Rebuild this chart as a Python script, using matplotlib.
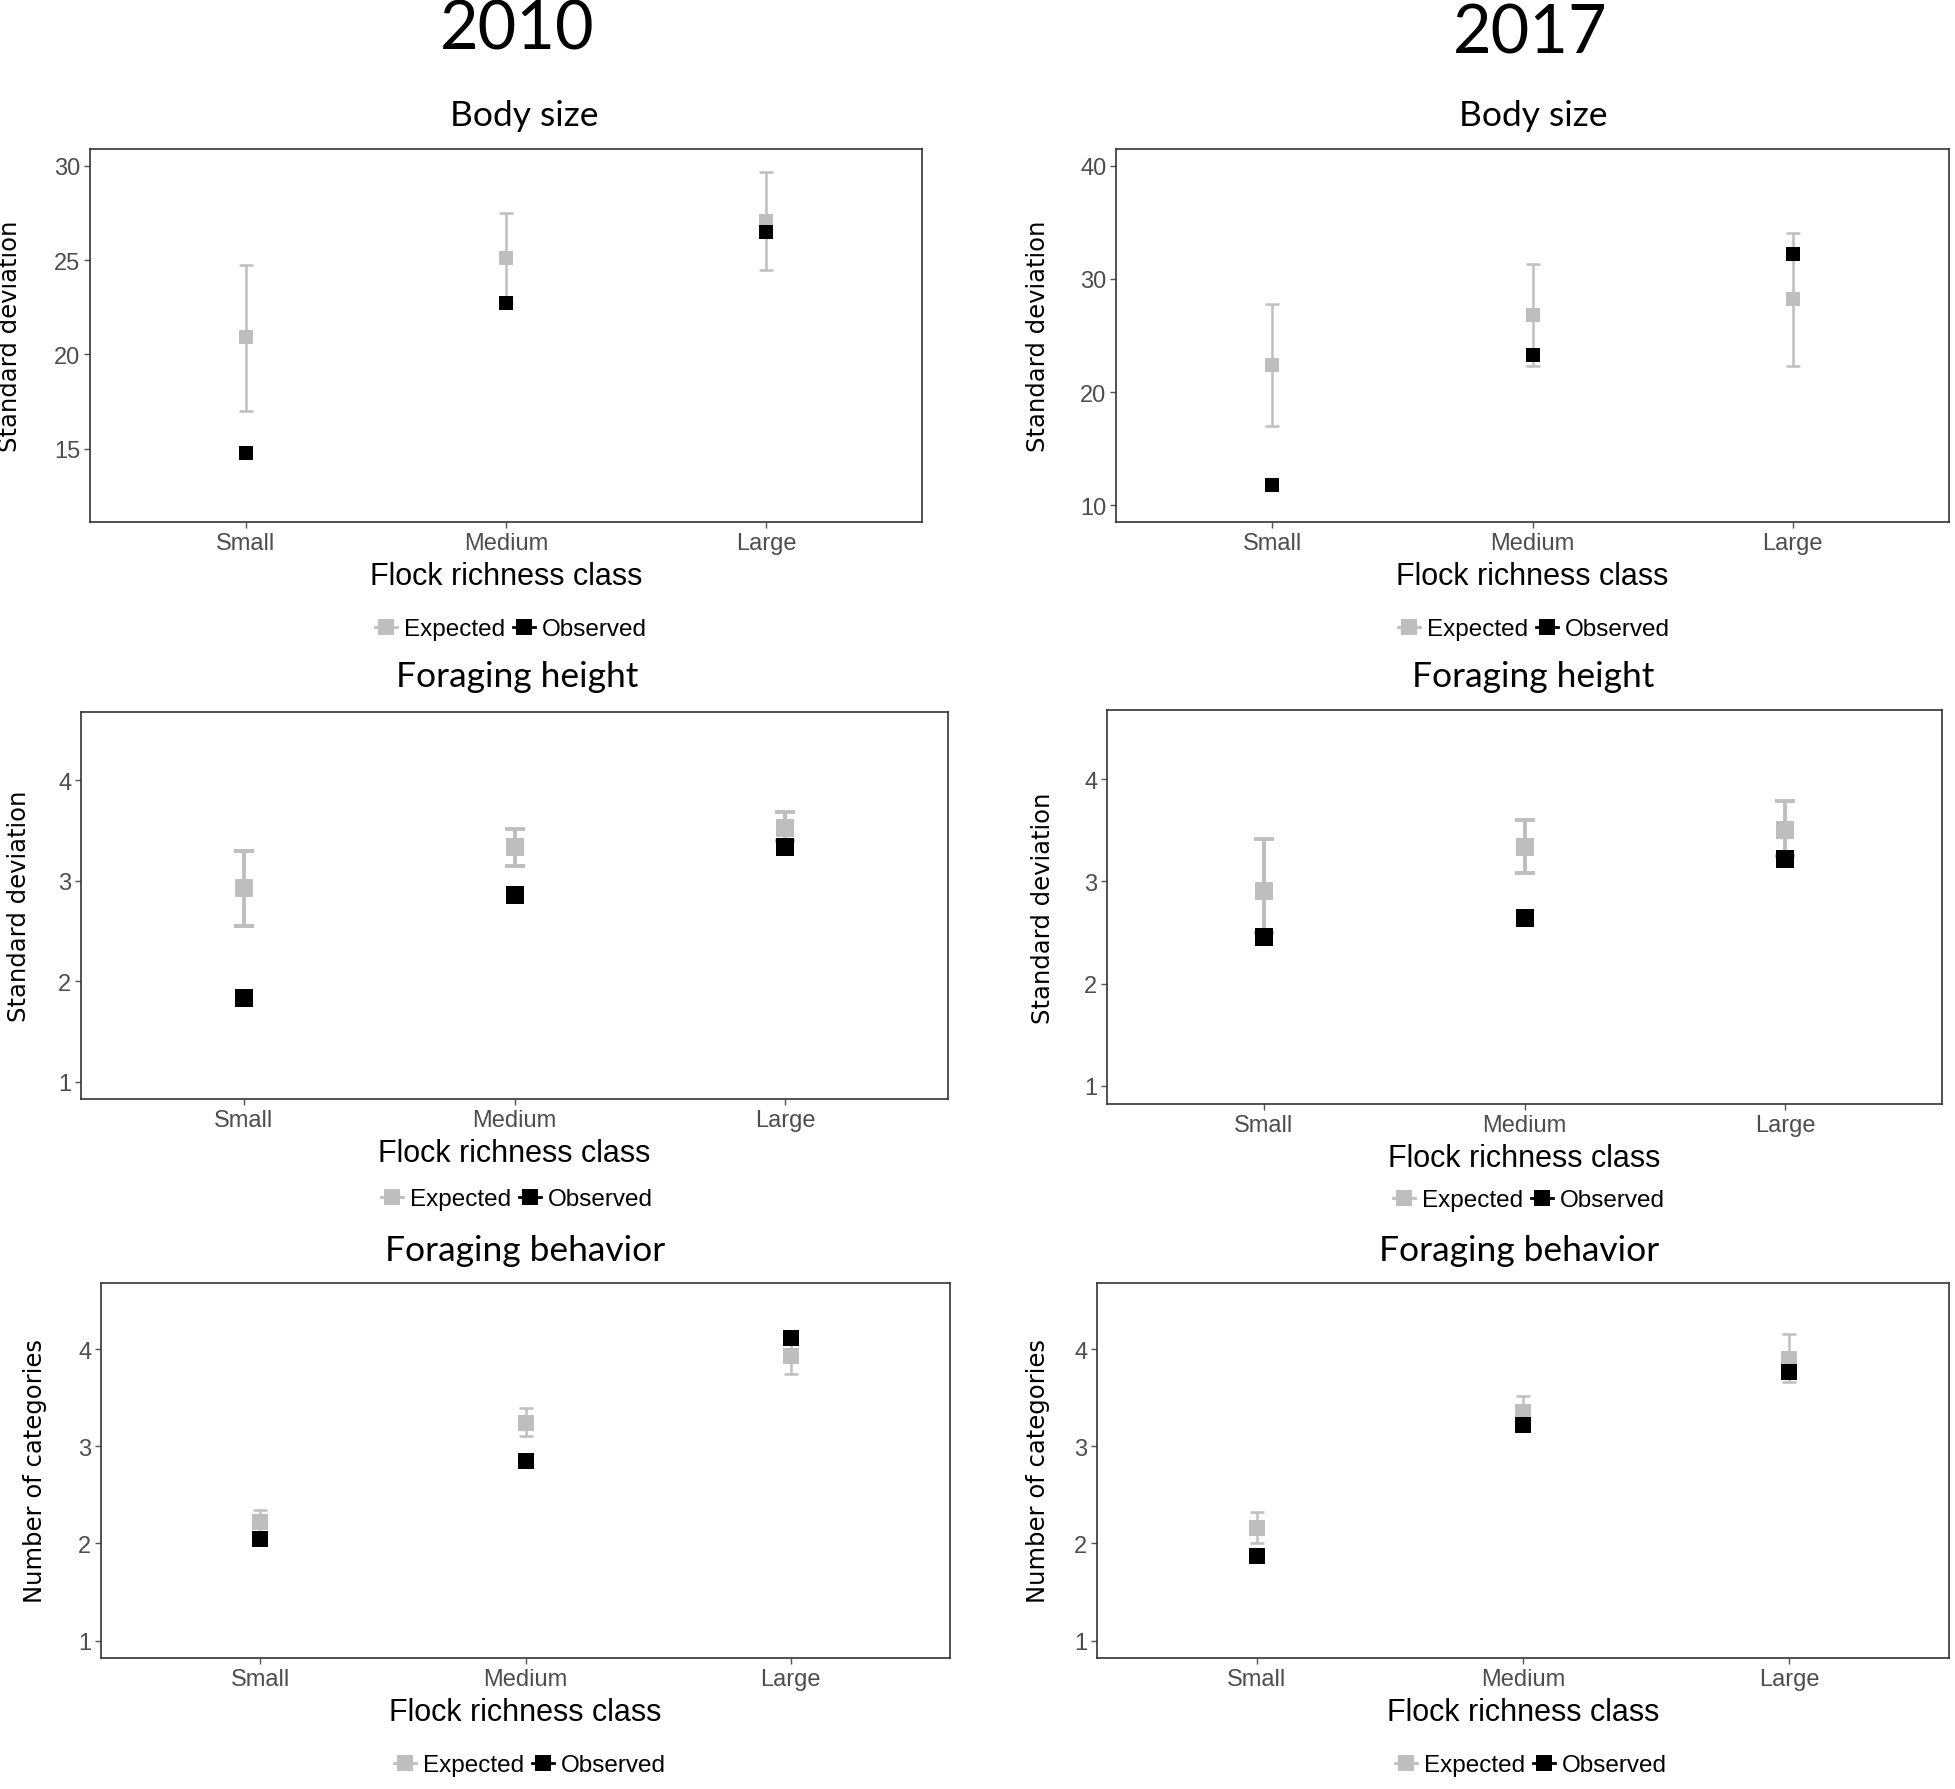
import matplotlib
matplotlib.use("Agg")
import matplotlib.pyplot as plt
from matplotlib.lines import Line2D

# ---- data ----
classes = ['Small', 'Medium', 'Large']
years = ['2010', '2017']
titles = ['Body size', 'Foraging height', 'Foraging behavior']
ylabels = ['Standard deviation', 'Standard deviation', 'Number of categories']

# body size
bs10_exp = [20.9, 25.1, 27.1]
bs10_lo = [17.0, 22.7, 24.5]
bs10_hi = [24.75, 27.5, 29.7]
bs10_obs = [14.75, 22.7, 26.5]

bs17_exp = [22.4, 26.8, 28.2]
bs17_lo = [17.0, 22.3, 22.3]
bs17_hi = [27.8, 31.35, 34.1]
bs17_obs = [11.8, 23.25, 32.25]

# foraging height
fh10_exp = [2.93, 3.34, 3.53]
fh10_lo = [2.55, 3.15, 3.40]
fh10_hi = [3.30, 3.52, 3.69]
fh10_obs = [1.83, 2.86, 3.34]

fh17_exp = [2.91, 3.34, 3.50]
fh17_lo = [2.50, 3.08, 3.25]
fh17_hi = [3.42, 3.60, 3.79]
fh17_obs = [2.46, 2.64, 3.22]

# foraging behavior
fb10_exp = [2.22, 3.24, 3.93]
fb10_lo = [2.10, 3.11, 3.74]
fb10_hi = [2.34, 3.39, 4.05]
fb10_obs = [2.05, 2.85, 4.11]

fb17_exp = [2.16, 3.35, 3.90]
fb17_lo = [2.00, 3.20, 3.66]
fb17_hi = [2.32, 3.52, 4.16]
fb17_obs = [1.87, 3.22, 3.76]

yticks_bs10 = [15, 20, 25, 30]
yticks_bs17 = [10, 20, 30, 40]
yticks_fh = [1, 2, 3, 4]
yticks_fb = [1, 2, 3, 4]

# ---- layout (pixels in a 1955 x 1790 canvas) ----
W, H = 1955, 1790
GREY = '#bebebe'

panels = [
    dict(d=(bs10_exp, bs10_lo, bs10_hi, bs10_obs), yt=yticks_bs10, yl=(11.1, 30.9),
         box=(90, 150, 922, 523), ylx=22, title=(524, 116), leg=(511, 630),
         row=0, ms=10, lw=1.8, cs=5),
    dict(d=(bs17_exp, bs17_lo, bs17_hi, bs17_obs), yt=yticks_bs17, yl=(8.5, 41.5),
         box=(1116, 150, 1949, 523), ylx=1050, title=(1533, 116), leg=(1534, 630),
         row=0, ms=10, lw=1.8, cs=5),
    dict(d=(fh10_exp, fh10_lo, fh10_hi, fh10_obs), yt=yticks_fh, yl=(0.83, 4.68),
         box=(81, 713, 948, 1100), ylx=31, title=(517, 677), leg=(517, 1200),
         row=1, ms=13, lw=2.8, cs=7),
    dict(d=(fh17_exp, fh17_lo, fh17_hi, fh17_obs), yt=yticks_fh, yl=(0.82, 4.68),
         box=(1107, 711, 1942, 1105), ylx=1055, title=(1533, 677), leg=(1529, 1201),
         row=1, ms=13, lw=2.8, cs=7),
    dict(d=(fb10_exp, fb10_lo, fb10_hi, fb10_obs), yt=yticks_fb, yl=(0.82, 4.68),
         box=(101, 1284, 950, 1659), ylx=47, title=(525, 1251), leg=(530, 1766),
         row=2, ms=12, lw=1.8, cs=5),
    dict(d=(fb17_exp, fb17_lo, fb17_hi, fb17_obs), yt=yticks_fb, yl=(0.82, 4.68),
         box=(1097, 1284, 1949, 1659), ylx=1050, title=(1519, 1251), leg=(1531, 1766),
         row=2, ms=12, lw=1.8, cs=5),
]

fig = plt.figure(figsize=(W / 100, H / 100), dpi=100)
fig.patch.set_facecolor('white')

tick_font = ['Liberation Sans Narrow', 'Liberation Sans', 'DejaVu Sans']
title_font = ['Lato', 'DejaVu Sans']

# year headers
fig.text(517 / W, 1 - 31 / H, years[0], ha='center', va='center', fontsize=48, family=title_font)
fig.text(1530 / W, 1 - 35 / H, years[1], ha='center', va='center', fontsize=48, family=title_font)

xpos = [1, 2, 3]
for i, p in enumerate(panels):
    l, t, r, b = p['box']
    ax = fig.add_axes([l / W, 1 - b / H, (r - l) / W, (b - t) / H])
    exp, lo, hi, obs = p['d']
    yerr = [[e - a for e, a in zip(exp, lo)], [h - e for e, h in zip(exp, hi)]]
    ax.errorbar(xpos, exp, yerr=yerr, fmt='none', ecolor=GREY,
                elinewidth=p['lw'], capsize=p['cs'], capthick=p['lw'], zorder=2)
    ax.plot(xpos, exp, 's', color=GREY, ms=p['ms'], mew=0, zorder=3)
    ax.plot(xpos, obs, 's', color='black', ms=p['ms'], mew=0, zorder=4)

    ax.set_xlim(0.4, 3.6)
    ax.set_ylim(*p['yl'])
    ax.set_xticks(xpos)
    ax.set_xticklabels(classes)
    ax.set_yticks(p['yt'])
    ax.tick_params(axis='both', length=4, width=1, color='#555555',
                   labelcolor='#4d4d4d', labelsize=17, pad=3)
    for lab in ax.get_xticklabels() + ax.get_yticklabels():
        lab.set_family(tick_font)
    for s in ax.spines.values():
        s.set_color('#333333')
        s.set_linewidth(1.2)

    ax.set_ylabel(ylabels[p['row']], fontsize=17.5, family='DejaVu Sans')
    ax.yaxis.set_label_coords((p['ylx'] - l) / (r - l), 0.5)
    ax.set_xlabel('Flock richness class', fontsize=22, family=tick_font, labelpad=5)

    tx, ty = p['title']
    fig.text(tx / W, 1 - ty / H, titles[p['row']], ha='center', va='center',
             fontsize=25.5, family=title_font)

    handles = [Line2D([], [], color=GREY, marker='s', ms=11, lw=2, mew=0),
               Line2D([], [], color='black', marker='s', ms=11, lw=2, mew=0)]
    lx, ly = p['leg']
    ax.legend(handles, ['Expected', 'Observed'], loc='center',
              bbox_to_anchor=(lx / W, 1 - ly / H), bbox_transform=fig.transFigure,
              ncol=2, frameon=False, handlelength=0.9,
              handletextpad=0.3, columnspacing=0.3, borderpad=0,
              prop={'family': tick_font, 'size': 17.5})

fig.savefig('out.png', dpi=100, facecolor='white')
